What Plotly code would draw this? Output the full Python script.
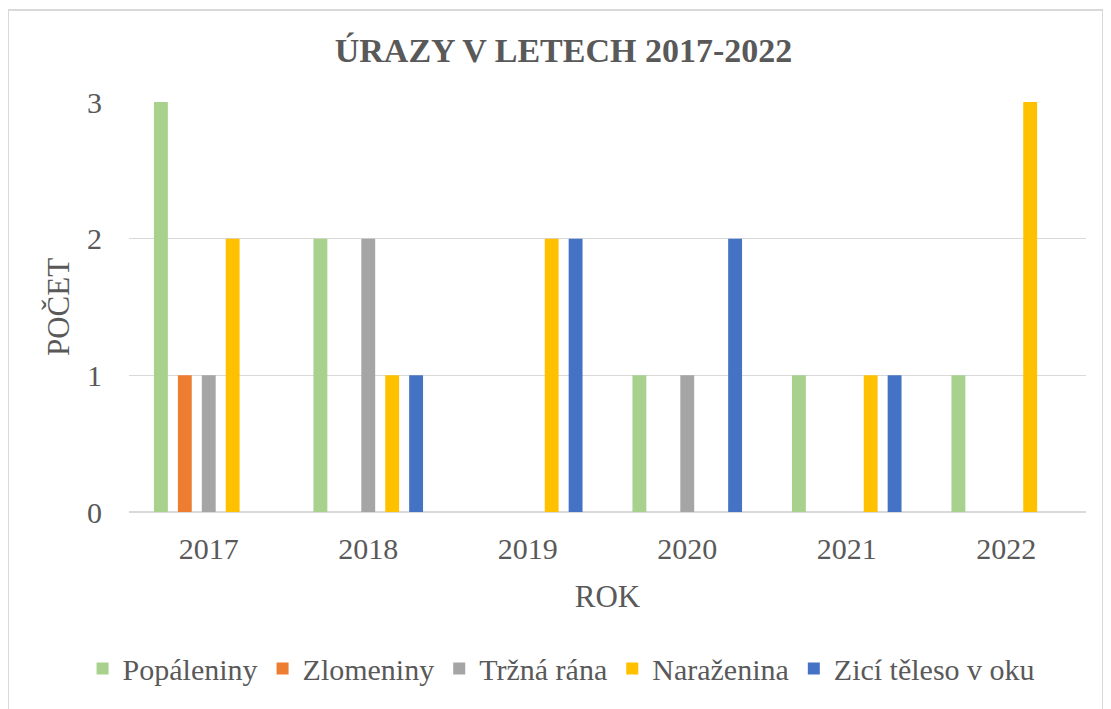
import plotly.graph_objects as go

# Data
years = ["2017", "2018", "2019", "2020", "2021", "2022"]
popaleniny = [3, 2, 0, 1, 1, 1]
zlomeniny = [1, 0, 0, 0, 0, 0]
trzna_rana = [1, 2, 0, 1, 0, 0]
narazenina = [2, 1, 2, 0, 1, 3]
cizi_teleso = [0, 1, 2, 2, 1, 0]

series = [
    ("Popáleniny", popaleniny, "#a9d18e"),
    ("Zlomeniny", zlomeniny, "#ed7d31"),
    ("Tržná rána", trzna_rana, "#a5a5a5"),
    ("Naraženina", narazenina, "#ffc000"),
    ("Zicí těleso v oku", cizi_teleso, "#4472c4"),
]

FONT = "Liberation Serif, Times New Roman, serif"
TEXT = "#595959"

# the page body has an 8px default margin, so margins are shifted to compensate
fig = go.Figure()
for name, vals, color in series:
    fig.add_trace(
        go.Bar(
            x=years,
            y=vals,
            name=name,
            marker=dict(color=color, line=dict(width=0)),
        )
    )

fig.update_layout(
    width=1111,
    height=709,
    paper_bgcolor="white",
    plot_bgcolor="white",
    font=dict(family=FONT, size=30, color=TEXT),
    margin=dict(l=121, r=33, t=94, b=205),
    barmode="group",
    bargap=0.25,
    bargroupgap=0.42,
    title=dict(
        text="<b>ÚRAZY V LETECH 2017-2022</b>",
        x=0.5,
        xanchor="center",
        y=0.94,
        yanchor="middle",
        font=dict(family=FONT, size=34, color=TEXT),
    ),
    xaxis=dict(
        title=dict(text="ROK", standoff=21, font=dict(size=31)),
        showgrid=False,
        showline=False,
        ticks="",
        ticklabelstandoff=16,
        tickfont=dict(size=30),
    ),
    yaxis=dict(
        title=dict(text="POČET", standoff=8, font=dict(size=31)),
        range=[0, 3],
        dtick=1,
        showgrid=True,
        gridcolor="#d9d9d9",
        gridwidth=1,
        zeroline=True,
        zerolinecolor="#d9d9d9",
        zerolinewidth=2,
        ticks="",
        ticklabelstandoff=26,
        tickfont=dict(size=30),
    ),
    legend=dict(
        orientation="h",
        x=0.452,
        xanchor="center",
        y=-0.382,
        yanchor="middle",
        font=dict(family=FONT, size=30, color=TEXT),
        itemwidth=30,
        traceorder="normal",
    ),
    shapes=[
        dict(
            type="rect",
            xref="paper",
            yref="paper",
            x0=(8 - 129) / 957,
            x1=(1103 - 129) / 957,
            y0=-(720 - 512) / 410,
            y1=1 + (102 - 10) / 410,
            line=dict(color="#d9d9d9", width=2),
            fillcolor="rgba(0,0,0,0)",
            layer="below",
        )
    ],
)

fig.write_html("out.html")
